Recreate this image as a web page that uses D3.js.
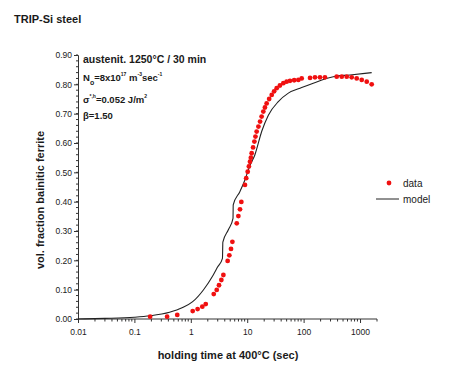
<!DOCTYPE html>
<html>
<head>
<meta charset="utf-8">
<script src="https://cdn.jsdelivr.net/npm/d3@7"></script>
<style>
  body { margin: 0; background: #fff; }
  text { font-family: "Liberation Sans", Arial, sans-serif; fill: #1a1a1a; }
</style>
</head>
<body>
<div id="chart"></div>
<script>
// measured data (holding time in sec, fraction)
let dataTime = [0.19, 0.38, 0.575, 1.08, 1.32, 1.6, 1.84, 2.55, 2.88, 3.16, 3.48, 3.78,
  4.5, 4.82, 5.16, 5.46, 6.52, 6.97, 7.45, 7.87, 9.13, 9.6, 10.2, 10.7, 11.2, 11.6, 12.0,
  12.7, 13.4, 14.0, 14.7, 15.8, 16.9, 18.0, 19.3, 20.6, 22.1, 24.5, 27.2, 30, 33.3, 38,
  43.7, 50, 57.4, 68, 80.6, 92.5, 130, 159, 195, 239, 386, 474, 581, 712, 874, 1072, 1315, 1610]
let dataFrac = [0.008, 0.008, 0.014, 0.027, 0.034, 0.042, 0.051, 0.085, 0.099, 0.115, 0.133, 0.15,
  0.198, 0.217, 0.239, 0.263, 0.326, 0.351, 0.374, 0.399, 0.457, 0.48, 0.502, 0.52, 0.536, 0.55, 0.565,
  0.585, 0.605, 0.622, 0.639, 0.656, 0.673, 0.69, 0.707, 0.721, 0.735, 0.75, 0.764, 0.776, 0.787, 0.796,
  0.804, 0.809, 0.812, 0.814, 0.815, 0.82, 0.822, 0.824, 0.824, 0.824, 0.826, 0.826, 0.826, 0.824, 0.82, 0.815, 0.809, 0.80]

// model curve
let modelTime = [0.01, 0.03, 0.1, 0.19, 0.42, 0.7, 1.08, 1.67, 2.5, 3.0, 3.64, 3.7, 4.63, 5.6, 5.65,
  7.4, 9.1, 11, 13.7, 18.1, 23.7, 35.6, 53.6, 92.5, 148, 336, 665, 1610]
let modelFrac = [0, 0.002, 0.006, 0.011, 0.023, 0.038, 0.059, 0.099, 0.15, 0.178, 0.207, 0.262, 0.304, 0.343, 0.389,
  0.434, 0.474, 0.52, 0.56, 0.64, 0.695, 0.741, 0.77, 0.789, 0.804, 0.826, 0.832, 0.84]

let xTicks = [0.01, 0.1, 1, 10, 100, 1000]
let xTickLabels = ['0.01', '0.1', '1', '10', '100', '1000']
let yTicks = [0, 0.1, 0.2, 0.3, 0.4, 0.5, 0.6, 0.7, 0.8, 0.9]

let width = 450
let height = 371

let svg = d3.select('#chart')
  .append('svg')
  .attr('width', width)
  .attr('height', height)

let x = d3.scaleLog().domain([0.01, 2000]).range([78, 377])
let y = d3.scaleLinear().domain([0, 0.9]).range([319, 55])

// minor ticks
let xMinor = []
for (let e = -2; e <= 3; e++) {
  for (let m = 2; m <= 9; m++) {
    let v = m * Math.pow(10, e)
    if (v <= 2000) xMinor.push(v)
  }
}
let yMinor = d3.range(0, 0.9001, 0.02)

let axisColor = '#333'

// y axis
let yAxis = svg.append('g')
  .attr('transform', 'translate(78,0)')
  .call(d3.axisLeft(y).tickValues(yTicks).tickFormat(d3.format('.2f')).tickSize(4).tickPadding(2))
yAxis.select('.domain').attr('stroke', axisColor)
yAxis.selectAll('.tick line').attr('stroke', axisColor)
yAxis.selectAll('.tick text')
  .style('font-size', '8.5px')
  .style('font-family', '"Liberation Sans", Arial, sans-serif')
  .attr('fill', '#111')

svg.append('g')
  .selectAll('line')
  .data(yMinor)
  .enter()
  .append('line')
  .attr('x1', 76)
  .attr('x2', 78)
  .attr('y1', function (d) { return y(d) })
  .attr('y2', function (d) { return y(d) })
  .attr('stroke', axisColor)

// x axis
let xAxis = svg.append('g')
  .attr('transform', 'translate(0,319)')
  .call(d3.axisBottom(x).tickValues(xTicks).tickFormat(function (d, i) { return xTickLabels[i] }).tickSize(4).tickPadding(6))
xAxis.select('.domain').attr('stroke', axisColor).attr('d', 'M78,0H377')
xAxis.selectAll('.tick line').attr('stroke', axisColor)
xAxis.selectAll('.tick text')
  .style('font-size', '8.5px')
  .style('font-family', '"Liberation Sans", Arial, sans-serif')
  .attr('fill', '#111')

svg.append('g')
  .selectAll('line')
  .data(xMinor)
  .enter()
  .append('line')
  .attr('x1', function (d) { return x(d) })
  .attr('x2', function (d) { return x(d) })
  .attr('y1', 319)
  .attr('y2', 321.5)
  .attr('stroke', axisColor)

// model line
let model = modelTime.map(function (t, i) { return [t, modelFrac[i]] })
svg.append('path')
  .datum(model)
  .attr('fill', 'none')
  .attr('stroke', '#222')
  .attr('stroke-width', 1.1)
  .attr('d', d3.line()
    .x(function (d) { return x(d[0]) })
    .y(function (d) { return y(d[1]) })
    .curve(d3.curveMonotoneX))

// data points
let pts = dataTime.map(function (t, i) { return [t, dataFrac[i]] })
svg.append('g')
  .selectAll('circle')
  .data(pts)
  .enter()
  .append('circle')
  .attr('cx', function (d) { return x(d[0]) })
  .attr('cy', function (d) { return y(d[1]) })
  .attr('r', 2.4)
  .style('fill', '#f01010')

// title
svg.append('text')
  .attr('x', 14)
  .attr('y', 23)
  .style('font-size', '11px')
  .style('font-weight', 'bold')
  .text('TRIP-Si steel')

// axis labels
svg.append('text')
  .attr('transform', 'translate(44,200) rotate(-90)')
  .attr('text-anchor', 'middle')
  .style('font-size', '11px')
  .style('font-weight', 'bold')
  .text('vol. fraction bainitic ferrite')

svg.append('text')
  .attr('x', 228)
  .attr('y', 359)
  .attr('text-anchor', 'middle')
  .style('font-size', '11px')
  .style('font-weight', 'bold')
  .text('holding time at 400°C (sec)')

// annotations
svg.append('text')
  .attr('x', 83)
  .attr('y', 63)
  .style('font-size', '10.5px')
  .style('font-weight', 'bold')
  .text('austenit. 1250°C / 30 min')

let n0 = svg.append('text')
  .attr('x', 83)
  .attr('y', 81)
  .style('font-size', '9.5px')
  .style('font-weight', 'bold')
n0.append('tspan').text('N')
n0.append('tspan').attr('dy', 4).style('font-size', '7px').text('o')
n0.append('tspan').attr('dy', -4).text('=8x10')
n0.append('tspan').attr('dy', -5).style('font-size', '5px').text('17')
n0.append('tspan').attr('dy', 5).text('  m')
n0.append('tspan').attr('dy', -5).style('font-size', '5px').text('-3')
n0.append('tspan').attr('dy', 5).text('sec')
n0.append('tspan').attr('dy', -5).style('font-size', '5px').text('-1')

let sig = svg.append('text')
  .attr('x', 83)
  .attr('y', 103)
  .style('font-size', '9.5px')
  .style('font-weight', 'bold')
sig.append('tspan').text('σ')
sig.append('tspan').attr('dy', -5).style('font-size', '5px').text('*,h')
sig.append('tspan').attr('dy', 5).text('=0.052 J/m')
sig.append('tspan').attr('dy', -5).style('font-size', '5px').text('2')

svg.append('text')
  .attr('x', 83)
  .attr('y', 119)
  .style('font-size', '9.5px')
  .style('font-weight', 'bold')
  .text('β=1.50')

// legend
svg.append('circle')
  .attr('cx', 389)
  .attr('cy', 183)
  .attr('r', 2.4)
  .style('fill', '#f01010')
svg.append('text')
  .attr('x', 403)
  .attr('y', 187)
  .style('font-size', '10px')
  .text('data')
svg.append('line')
  .attr('x1', 376)
  .attr('x2', 399)
  .attr('y1', 199)
  .attr('y2', 199)
  .attr('stroke', '#222')
svg.append('text')
  .attr('x', 403)
  .attr('y', 203)
  .style('font-size', '10px')
  .text('model')
</script>
</body>
</html>
